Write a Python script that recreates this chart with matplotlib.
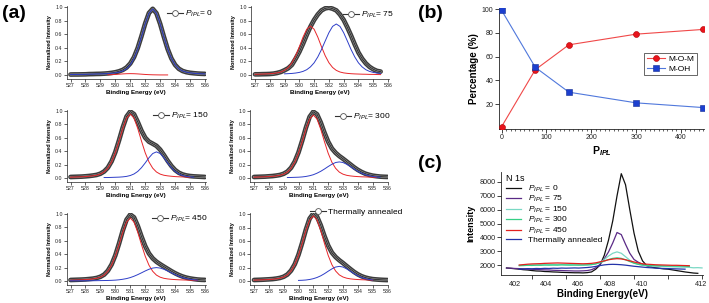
import numpy as np
import matplotlib
matplotlib.use('Agg')
import matplotlib.pyplot as plt
import matplotlib.transforms as mtransforms
from matplotlib.lines import Line2D

plt.rcParams['font.family'] = ['Liberation Sans', 'DejaVu Sans']
plt.rcParams['mathtext.fontset'] = 'custom'
plt.rcParams['mathtext.rm'] = 'Liberation Sans'
plt.rcParams['mathtext.it'] = 'Liberation Sans:italic'
plt.rcParams['mathtext.bf'] = 'Liberation Sans:bold'
plt.rcParams['mathtext.bfit'] = 'Liberation Sans:italic:bold'

# ---------------- data: (a) O 1s fits ----------------
be_a = np.arange(527.0, 536.001, 0.25)
N = None
red_p0 = [0, 0, 0, 0, 0, .001, .001, .001, .001, .002, .003, .005, .008, .012, .016, .019, .020, .019, .016,
          .012, .008, .005, .003, .002, .001, .001, .001, .001, 0, 0, 0, 0, 0, 0, 0, 0, 0]
blue_p0 = [.007, .008, .008, .009, .010, .012, .013, .015, .016, .018, .021, .026, .032, .042, .059, .091, .149,
           .243, .382, .560, .751, .907, .970, .907, .751, .560, .382, .243, .149, .091, .059, .042, .032, .026,
           .021, .018, .016]
data_p75 = [.010, .010, .012, .013, .015, .020, .030, .045, .070, .100, .150, .240, .340, .460, .590, .710, .810,
            .890, .950, .980, .990, .975, .950, .890, .810, .700, .580, .450, .330, .240, .170, .120, .085, .060,
            .050, N, N]
red_p75 = [.011, .012, .014, .016, .019, .024, .031, .044, .068, .111, .181, .284, .415, .557, .673, .720, .673,
           .557, .415, .284, .181, .111, .068, .044, .031, .024, .019, .016, .014, .012, .011, .009, .009, .007,
           .006, .006, .006]
blue_p75 = [.008, .008, .009, .010, .011, .012, .014, .015, .017, .020, .023, .029, .038, .053, .078, .119, .179,
            .266, .375, .500, .622, .715, .750, .715, .622, .500, .375, .266, .179, .119, .078, .053, .038, .029,
            .023, .020, .017]
red_p150 = [.012, .014, .016, .018, .021, .026, .032, .041, .058, .090, .147, .240, .376, .551, .739, .893, .955,
            .893, .739, .551, .376, .240, .147, .090, .058, .041, .032, .026, .021, .018, .016, .014, .012, .011,
            .010, .009, .008]
blue_p150 = [.003, .003, .003, .003, .004, .004, .005, .005, .006, .007, .007, .009, .011, .013, .017, .024, .037,
             .060, .098, .154, .225, .302, .365, .390, .365, .302, .225, .154, .098, .060, .037, .024, .017, .013,
             .011, .009, .007]
red_p300 = [.012, .014, .016, .018, .021, .025, .031, .040, .057, .088, .145, .236, .370, .542, .728, .879, .940,
            .879, .728, .542, .370, .236, .145, .088, .057, .040, .031, .025, .021, .018, .016, .014, .012, .011,
            .009, .008, .008]
blue_p300 = [.003, .003, .003, .003, .004, .004, .005, .005, .006, .007, .008, .010, .012, .016, .023, .034, .049,
             .072, .100, .134, .171, .205, .231, .240, .231, .205, .171, .134, .100, .072, .049, .034, .023, .016,
             .012, .010, .008]
red_p450 = [.012, .014, .016, .018, .021, .025, .031, .040, .057, .088, .145, .236, .370, .542, .728, .879, .940,
            .879, .728, .542, .370, .236, .145, .088, .057, .040, .031, .025, .021, .018, .016, .014, .012, .011,
            .009, .008, .008]
blue_p450 = [.003, .003, .003, .003, .003, .004, .004, .005, .006, .007, .008, .010, .013, .018, .026, .036, .051,
             .071, .095, .122, .150, .175, .193, .200, .193, .175, .150, .122, .095, .071, .051, .036, .026, .018,
             .013, .010, .008]
red_ann = [.013, .015, .017, .019, .022, .026, .032, .042, .060, .092, .151, .246, .386, .565, .759, .916, .980,
           .916, .759, .565, .386, .246, .151, .092, .060, .042, .032, .026, .022, .019, .017, .015, .013, .012,
           .010, .009, .008]
blue_ann = [.002, .002, .002, .003, .003, .003, .004, .004, .004, .005, .006, .007, .009, .011, .015, .023, .035,
            .053, .078, .110, .147, .182, .210, .220, .210, .182, .147, .110, .078, .053, .035, .023, .015, .011,
            .009, .007, .006]
a_labels = [r'$P_{IPL}$= 0', r'$P_{IPL}$= 75', r'$P_{IPL}$= 150', r'$P_{IPL}$= 300', r'$P_{IPL}$= 450',
            'Thermally annealed']

# ---------------- data: (b) ----------------
pipl = [0, 75, 150, 300, 450]
mom_pct = [1, 49, 70, 79, 83]
moh_pct = [99, 51, 30, 21, 17]

# ---------------- data: (c) N 1s ----------------
be_c = np.arange(400.5, 412.001, 0.25)
n1s_p0 = [1790, 1760, 1730, 1700, 1660, 1640, 1600, 1570, 1560, 1530, 1520, 1500, 1490, 1470, 1460, 1450, 1440,
          1440, 1430, 1450, 1500, 1700, 2000, 2700, 3800, 5200, 7000, 8600, 7800, 6000, 4300, 3000, 2300, 1950,
          1850, 1800, 1760, 1720, 1700, 1650, 1600, 1550, 1500, 1460, 1420, 1400, N]
n1s_p75 = [1780, 1770, 1750, 1740, 1720, 1700, 1690, 1680, 1660, 1650, 1640, 1620, 1610, 1600, 1590, 1580, 1570,
           1570, 1580, 1600, 1660, 1800, 2050, 2450, 2950, 3600, 4350, 4200, 3500, 2850, 2400, 2200, 2050, 1950,
           1900, N, N, N, N, N, N, N, N, N, N, N, N]
n1s_p150 = [N, N, N, 1980, 2000, 1990, 2010, 2000, 2020, 2010, 2030, 2020, 2040, 2030, 2020, 2030, 2010, 2020,
            2000, 2010, 2030, 2080, 2200, 2400, 2650, 2850, 2950, 2850, 2600, 2350, 2150, 2050, 1980, 1950, 1930,
            1920, 1900, 1890, 1880, 1870, 1860, 1850, 1840, 1830, 1800, 1810, 1790]
n1s_p300 = [N, N, N, 1950, 1960, 1980, 1970, 1990, 1980, 2000, 1990, 2000, 1990, 2010, 2000, 1990, 2000, 1990,
            2000, 2010, 2030, 2080, 2170, 2280, 2400, 2480, 2520, 2480, 2380, 2250, 2130, 2050, 2000, 1980, 1960,
            1950, 1950, 1940, 1930, 1930, 1920, 1920, 1910, 1900, N, N, N]
n1s_p450 = [N, N, N, 2000, 2030, 2060, 2080, 2090, 2100, 2120, 2130, 2140, 2150, 2140, 2130, 2120, 2110, 2100,
            2090, 2100, 2120, 2160, 2230, 2300, 2380, 2430, 2460, 2440, 2380, 2300, 2220, 2150, 2090, 2060, 2040,
            2020, 2010, 2000, 1990, 1980, 1980, 1970, 1960, 1950, N, N, N]
n1s_ann = [N, N, N, 1700, 1720, 1740, 1730, 1750, 1740, 1760, 1750, 1770, 1760, 1780, 1770, 1780, 1790, 1780,
           1800, 1820, 1850, 1900, 1960, 2010, 2040, 2050, 2040, 2020, 1990, 1950, 1910, 1880, 1850, 1820, 1800,
           1780, 1760, 1750, 1740, 1730, 1720, 1710, 1700, N, N, N, N]
c_labels = [r'$P_{IPL}$ = 0', r'$P_{IPL}$ = 75', r'$P_{IPL}$ = 150', r'$P_{IPL}$ = 300', r'$P_{IPL}$ = 450',
            'Thermally annealed']
c_xticks = [402, 404, 406, 408, 410, 412]

# ---------------- figure ----------------
W, H = 709, 303
fig = plt.figure(figsize=(W / 100, H / 100), dpi=100)


def add_ax(l, t, r, b):
    return fig.add_axes([l / W, 1 - b / H, (r - l) / W, (b - t) / H])


def style(ax, lab, tl, w=0.6):
    for s in ('top', 'right'):
        ax.spines[s].set_visible(False)
    for s in ('left', 'bottom'):
        ax.spines[s].set_linewidth(w)
        ax.spines[s].set_color('#222222')
    ax.tick_params(direction='out', length=tl, width=w, labelsize=lab, pad=1, colors='#222222')


# (a) panels: pixel of 527 / 536 and of 1.0 / 0.0
XL = (526.75, 536.05)
YL = (-0.06, 1.02)
panels = [
    (70.5, 205, 7, 75, None, red_p0, blue_p0, (529.5, 533.5), (527, 536), (167, 14)),
    (255, 388, 7, 75, data_p75, red_p75, blue_p75, (527, 535.5), (529, 535.5), (343, 15)),
    (70.5, 205, 111, 178, None, red_p150, blue_p150, (527, 535), (529.25, 535.25), (153, 116)),
    (254, 387.5, 111, 178, None, red_p300, blue_p300, (527, 535.25), (529.25, 535.5), (335, 117)),
    (70.5, 205, 214, 281, None, red_p450, blue_p450, (527, 535.5), (527, 535.5), (152, 219)),
    (254, 387.5, 214.5, 281, None, red_ann, blue_ann, (527, 535), (530, 535), (310, 212)),
]
for k, (x527, x536, y1, y0, data, red, blue, rr, br, lg) in enumerate(panels):
    sx = (x536 - x527) / 9.0
    sy = (y0 - y1)
    ax = add_ax(x527 + (XL[0] - 527) * sx, y1 - (YL[1] - 1) * sy, x527 + (XL[1] - 527) * sx, y0 - YL[0] * sy)
    red = np.asarray(red, float)
    blue = np.asarray(blue, float)
    tot = red + blue if data is None else np.asarray(data, float)
    mr = (be_a >= rr[0]) & (be_a <= rr[1])
    mb = (be_a >= br[0]) & (be_a <= br[1])
    ax.plot(be_a, tot, color='#3c3c3c', lw=3.4, solid_capstyle='round', zorder=2)
    ax.plot(be_a, tot, color='#9c9c9c', lw=1.3, zorder=3)
    ax.plot(be_a, tot, color='#111111', lw=0.5, zorder=4)
    ax.plot(be_a[mr], red[mr], color='#e8262a', lw=0.7, zorder=5)
    ax.plot(be_a[mb], blue[mb], color='#2e3ec8', lw=0.7, zorder=5)
    ax.set_xlim(*XL)
    ax.set_ylim(*YL)
    ax.set_xticks(range(527, 537))
    ax.set_yticks([0, 0.2, 0.4, 0.6, 0.8, 1.0])
    ax.set_yticklabels(['0.0', '0.2', '0.4', '0.6', '0.8', '1.0'])
    style(ax, 3.8, 2.0, 0.5)
    ax.set_xlabel('Binding Energy (eV)', fontsize=4.5, fontweight='bold', labelpad=1.5)
    ax.set_ylabel('Normalized Intensity', fontsize=4.0, fontweight='bold', labelpad=2.5)
    h = Line2D([], [], color='#333333', lw=0.8, marker='o', ms=4.2, mfc='white', mec='#555555', mew=0.6)
    ax.legend([h], [a_labels[k]], frameon=False, fontsize=6, loc='center left',
              bbox_to_anchor=(lg[0] / W, 1 - lg[1] / H), bbox_transform=fig.transFigure,
              borderpad=0, borderaxespad=0, handlelength=1.9, handletextpad=0.3)

# (b)
axb = add_ax(499, 8.1, 704.2, 128.9)
axb.plot(pipl, mom_pct, color='#f04848', lw=0.8, marker='o', ms=4.3, mfc='#e8141c', mec='#b00000',
         mew=0.4, label='M-O-M', zorder=3)
axb.plot(pipl, moh_pct, color='#5078dc', lw=0.8, marker='s', ms=4.0, mfc='#1c3fcf', mec='#102a90',
         mew=0.4, label='M-OH', zorder=3)
axb.set_xlim(-6, 452)
axb.set_ylim(-1, 101)
axb.set_xticks([0, 100, 200, 300, 400])
axb.set_xticks(np.arange(0, 451, 10), minor=True)
axb.set_yticks([20, 40, 60, 80, 100])
style(axb, 5, 3.0, 0.6)
axb.tick_params(which='minor', direction='out', length=1.6, width=0.5, colors='#222222')
axb.set_ylabel('Percentage (%)', fontsize=7, fontweight='bold', labelpad=2)
axb.set_xlabel(r'$\mathbf{P}_{\mathbfit{IPL}}$', fontsize=7.5, labelpad=2)
lb = axb.legend(loc='upper left', bbox_to_anchor=(644 / W, 1 - 53 / H), bbox_transform=fig.transFigure,
                fontsize=6, frameon=True, fancybox=False, borderpad=0.3, borderaxespad=0,
                handlelength=2.2, handletextpad=0.4, labelspacing=0.2)
lb.get_frame().set_edgecolor('#222222')
lb.get_frame().set_linewidth(0.6)

# (c)
axc = add_ax(501.4, 172.3, 702.9, 275.4)
c_cols = ['#111111', '#5a2a86', '#7ad8c4', '#35cf85', '#e3201f', '#2433a8']
for ys, col, lab in zip([n1s_p0, n1s_p75, n1s_p150, n1s_p300, n1s_p450, n1s_ann], c_cols, c_labels):
    axc.plot(be_c, np.array(ys, dtype=float), color=col, lw=0.9, label=lab)
axc.set_xlim(400.2, 412.05)
axc.set_ylim(1250, 8700)
axc.set_xticks(c_xticks)
axc.set_xticklabels([str(v) for v in c_xticks])
axc.set_yticks([2000, 3000, 4000, 5000, 6000, 7000, 8000])
style(axc, 5.2, 3.0, 0.6)
# the reference's tick labels sit left of their tick marks (last one aligned)
for lab, dx in zip(axc.get_xticklabels(), [-17, -20, -22, -24, -26, -1]):
    lab.set_transform(lab.get_transform() + mtransforms.ScaledTranslation(dx / 100, 0, fig.dpi_scale_trans))
axc.set_xlabel('Binding Energy(eV)', fontsize=7, fontweight='bold', labelpad=1)
axc.set_ylabel('Intensity', fontsize=6.5, fontweight='bold', labelpad=3)
lc = axc.legend(loc='upper left', bbox_to_anchor=(506 / W, 1 - 174 / H), bbox_transform=fig.transFigure,
                fontsize=6, frameon=False, title='N 1s', title_fontsize=6.5, borderpad=0, borderaxespad=0,
                handlelength=1.8, handletextpad=0.8, labelspacing=0.05)
lc._legend_box.align = 'left'

# panel labels
fig.text(2 / W, 1 - 14 / H, '(a)', fontsize=14, fontweight='bold', va='center', ha='left')
fig.text(418 / W, 1 - 13 / H, '(b)', fontsize=14, fontweight='bold', va='center', ha='left')
fig.text(418 / W, 1 - 163 / H, '(c)', fontsize=14, fontweight='bold', va='center', ha='left')

fig.savefig('out.png', dpi=100)
